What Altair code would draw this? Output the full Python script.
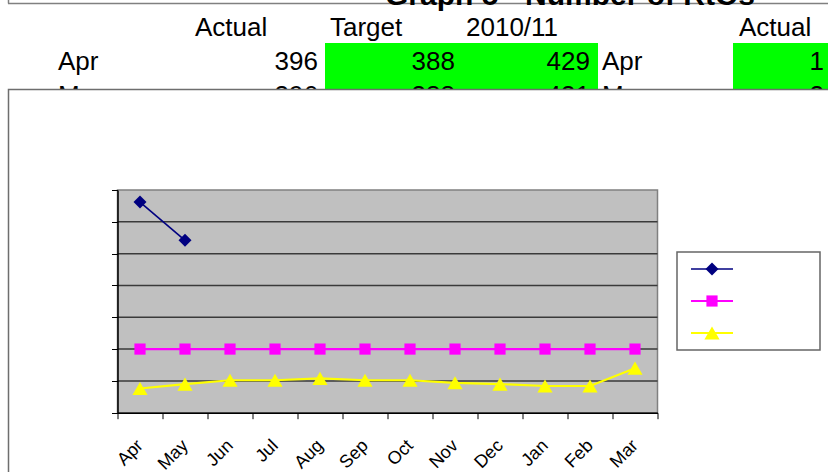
import altair as alt
import pandas as pd

# ---------------- data ----------------
months = ["Apr", "May", "Jun", "Jul", "Aug", "Sep", "Oct", "Nov", "Dec", "Jan", "Feb", "Mar"]
series_names = ["Actual", "Target", "2009/10"]
actual = [331, 271, None, None, None, None, None, None, None, None, None, None]
target = [100, 100, 100, 100, 100, 100, 100, 100, 100, 100, 100, 100]
prior = [38, 45, 51, 51, 54, 51, 51, 47, 45, 42, 42, 70]
y_ticks = [0, 50, 100, 150, 200, 250, 300, 350]
grid_values = [50, 100, 150, 200, 250, 300]

# spreadsheet fragment behind the chart
sheet_title = "Graph 5 - Number of RtOs"
header_labels = ["Actual", "Target", "2010/11", "Actual"]
row_months = ["Apr", "May"]
tbl_actual = [396, 396]
tbl_target = [388, 388]
tbl_1011 = [429, 431]
tbl_actual2 = [1, 2]

# ---------------- layout ----------------
W, H = 828, 472
PL, PT, PW, PH = 117.5, 190.0, 540.0, 222.7


def px(x):
    return x - PL


def py(y):
    return y - PT


colors = ["#000080", "#FF00FF", "#FFFF00"]
shapes = ["diamond", "square", "triangle-up"]
sizes = [170, 125, 230]
widths = [1.6, 2.2, 2.2]
FONT = "Liberation Sans"

rows = []
for name, vals in zip(series_names, [actual, target, prior]):
    for m, v in zip(months, vals):
        if v is not None:
            rows.append({"series": name, "month": m, "value": v})
df = pd.DataFrame(rows)

x_enc = alt.X(
    "month:N",
    sort=months,
    scale=alt.Scale(type="band", domain=months, paddingInner=0, paddingOuter=0),
    axis=alt.Axis(
        title=None, grid=False, tickBand="extent", tickSize=6, tickColor="#000000",
        tickWidth=1, domainColor="#000000", domainWidth=1.5, labelAngle=-45,
        labelAlign="right", labelBaseline="middle", labelPadding=24,
        labelFont=FONT, labelFontSize=18, labelColor="#000000",
        labelOverlap=False, labelBound=False, labelFlush=False, zindex=1,
    ),
)
y_enc = alt.Y(
    "value:Q",
    scale=alt.Scale(domain=[0, 350], nice=False, zero=True),
    axis=alt.Axis(
        title=None, grid=False, labels=False, values=y_ticks, tickSize=6,
        tickColor="#000000", tickWidth=1, domainColor="#000000", domainWidth=1.5,
        zindex=1,
    ),
)
color_enc = alt.Color("series:N", scale=alt.Scale(domain=series_names, range=colors), legend=None)
shape_enc = alt.Shape("series:N", scale=alt.Scale(domain=series_names, range=shapes), legend=None)
size_enc = alt.Size("series:N", scale=alt.Scale(type="ordinal", domain=series_names, range=sizes), legend=None)
sw_enc = alt.StrokeWidth("series:N", scale=alt.Scale(type="ordinal", domain=series_names, range=widths), legend=None)

one = pd.DataFrame({"a": [0]})

# ---------------- sheet background ----------------
cells = pd.DataFrame({
    "x": [px(325), px(733)], "x2": [px(598), px(840)],
    "y": [py(43), py(43)], "y2": [py(130), py(130)],
})
green = alt.Chart(cells).mark_rect(color="#00FF00").encode(
    x=alt.X("x:Q", scale=None), x2="x2:Q",
    y=alt.Y("y:Q", scale=None), y2="y2:Q",
)

HEADER_X = [195, 330, 466, 739]
HEADER_Y = 36
ROW_Y = [70, 104]
MONTH_X = [58, 602]
NUM_RIGHT = [318, 455, 590, 824]

left_items = []
for lab, xx in zip(header_labels, HEADER_X):
    left_items.append({"t": lab, "x": px(xx), "y": py(HEADER_Y)})
right_items = []
for i, m in enumerate(row_months):
    for xx in MONTH_X:
        left_items.append({"t": m, "x": px(xx), "y": py(ROW_Y[i])})
    nums = [tbl_actual[i], tbl_target[i], tbl_1011[i], tbl_actual2[i]]
    for n, xr in zip(nums, NUM_RIGHT):
        right_items.append({"t": str(n), "x": px(xr), "y": py(ROW_Y[i])})

sheet_left = alt.Chart(pd.DataFrame(left_items)).mark_text(
    align="left", baseline="alphabetic", font=FONT, fontSize=26, color="#000000"
).encode(x=alt.X("x:Q", scale=None), y=alt.Y("y:Q", scale=None), text="t:N")
sheet_right = alt.Chart(pd.DataFrame(right_items)).mark_text(
    align="right", baseline="alphabetic", font=FONT, fontSize=26, color="#000000"
).encode(x=alt.X("x:Q", scale=None), y=alt.Y("y:Q", scale=None), text="t:N")

top_line = alt.Chart(one).mark_rule(color="#808080", strokeWidth=1.5).encode(
    x=alt.value(px(8)), x2=alt.value(px(830)), y=alt.value(py(3.5))
)
top_vline = alt.Chart(one).mark_rule(color="#808080", strokeWidth=1.5).encode(
    x=alt.value(px(8.5)), y=alt.value(py(-5)), y2=alt.value(py(3.5))
)
title_txt = alt.Chart(pd.DataFrame({"t": [sheet_title]})).mark_text(
    align="left", baseline="alphabetic", font=FONT, fontSize=30, fontWeight="bold",
    color="#000000"
).encode(x=alt.value(px(385)), y=alt.value(py(4.5)), text="t:N")

# ---------------- chart frame ----------------
frame = alt.Chart(one).mark_rect(fill="#FFFFFF", stroke="#6E6E6E", strokeWidth=1.5).encode(
    x=alt.value(px(8.5)), x2=alt.value(px(900)), y=alt.value(py(89.5)), y2=alt.value(py(600))
)
plot_bg = alt.Chart(one).mark_rect(fill="#C0C0C0", stroke="#808080", strokeWidth=1.5).encode(
    x=alt.value(0), x2=alt.value(PW), y=alt.value(0), y2=alt.value(PH)
)
grid = alt.Chart(pd.DataFrame({"value": grid_values})).mark_rule(
    color="#3A3A3A", strokeWidth=1.5
).encode(y=y_enc, x=alt.value(0), x2=alt.value(PW))

lines = alt.Chart(df).mark_line().encode(
    x=x_enc, y=y_enc, color=color_enc, strokeWidth=sw_enc, detail="series:N"
)
points = alt.Chart(df).mark_point(filled=True, opacity=1, strokeWidth=0).encode(
    x=x_enc, y=y_enc, color=color_enc, shape=shape_enc, size=size_enc
)

# ---------------- legend (labels are blank in the original) ----------------
LEG_ROWS = [269, 301, 333]
leg_df = pd.DataFrame({"series": series_names, "ly": [py(v) for v in LEG_ROWS]})
leg_box = alt.Chart(one).mark_rect(fill="#FFFFFF", stroke="#666666", strokeWidth=1.5).encode(
    x=alt.value(px(677)), x2=alt.value(px(820)), y=alt.value(py(252)), y2=alt.value(py(350))
)
leg_lines = alt.Chart(leg_df).mark_rule().encode(
    x=alt.value(px(691)), x2=alt.value(px(733)), y=alt.Y("ly:Q", scale=None),
    color=color_enc, strokeWidth=sw_enc,
)
leg_pts = alt.Chart(leg_df).mark_point(filled=True, opacity=1, strokeWidth=0).encode(
    x=alt.value(px(712)), y=alt.Y("ly:Q", scale=None),
    color=color_enc, shape=shape_enc, size=size_enc,
)

chart = alt.layer(
    green, sheet_left, sheet_right, top_line, top_vline, title_txt,
    frame, plot_bg, grid, lines, points, leg_box, leg_lines, leg_pts,
).properties(
    width=PW, height=PH,
    padding={"left": PL, "top": PT, "right": W - PL - PW, "bottom": H - PT - PH},
    autosize=alt.AutoSizeParams(type="none"),
    background="#FFFFFF",
).configure_view(strokeWidth=0, fill=None)

chart.save("out.html", embed_options={"renderer": "svg", "actions": False})
